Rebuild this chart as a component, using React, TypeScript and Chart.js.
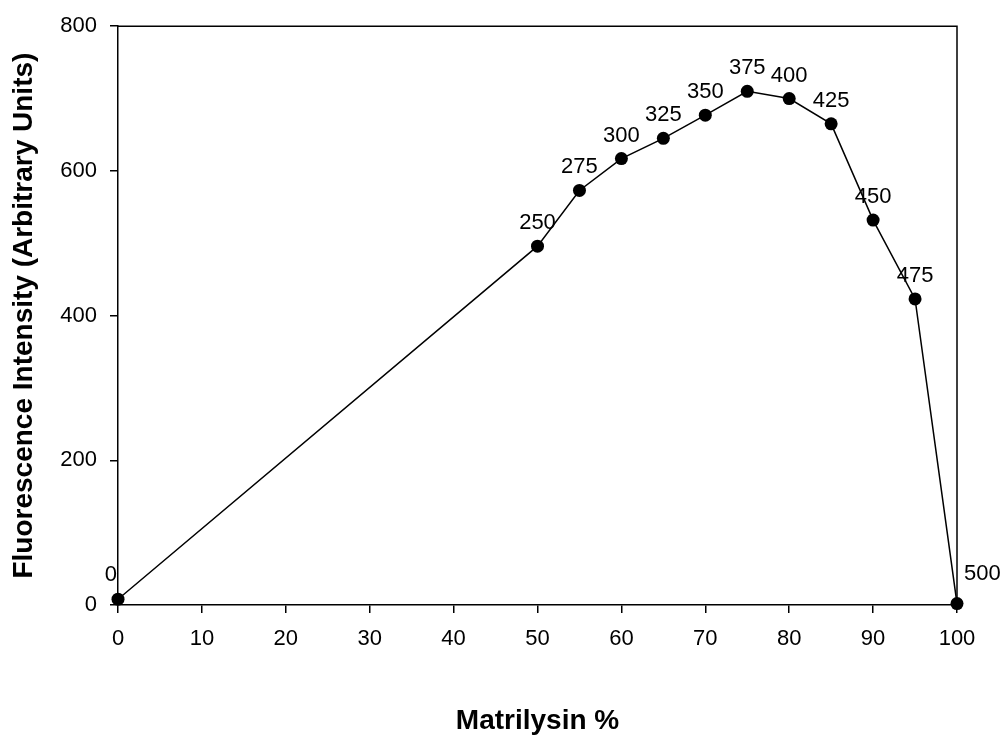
import React, { useEffect, useRef } from "react";
import { Chart, registerables } from "chart.js";

Chart.register(...registerables);

const matrilysinPct = [0, 50, 55, 60, 65, 70, 75, 80, 85, 90, 95, 100];
const intensity = [8, 496, 573, 617, 645, 677, 710, 700, 665, 532, 423, 2];
const pointLabels = ["0", "250", "275", "300", "325", "350", "375", "400", "425", "450", "475", "500"];
const xTicks = [0, 10, 20, 30, 40, 50, 60, 70, 80, 90, 100];
const yTicks = [0, 200, 400, 600, 800];

const FONT = "'Liberation Sans', Arial, Helvetica, sans-serif";

const frameAndLabels = {
  id: "frameAndLabels",
  beforeDatasetsDraw(chart: any) {
    const { ctx, chartArea } = chart;
    ctx.save();
    ctx.strokeStyle = "#000";
    ctx.lineWidth = 1.5;
    ctx.beginPath();
    ctx.moveTo(chartArea.left, chartArea.top);
    ctx.lineTo(chartArea.right, chartArea.top);
    ctx.lineTo(chartArea.right, chartArea.bottom);
    ctx.stroke();
    ctx.restore();
  },
  afterDatasetsDraw(chart: any) {
    const { ctx } = chart;
    const meta = chart.getDatasetMeta(0);
    const xScale = chart.scales.x;
    ctx.save();
    ctx.fillStyle = "#000";
    ctx.font = `22px ${FONT}`;
    ctx.textBaseline = "middle";
    meta.data.forEach((pt: any, i: number) => {
      const v = matrilysinPct[i];
      let x = pt.x;
      let y = pt.y - 23;
      ctx.textAlign = "center";
      if (v <= xScale.min) {
        ctx.textAlign = "right";
        x = pt.x - 1;
        y = pt.y - 24;
      } else if (v >= xScale.max) {
        ctx.textAlign = "left";
        x = pt.x + 7;
        y = pt.y - 30;
      }
      ctx.fillText(pointLabels[i], x, y);
    });
    ctx.restore();
  },
};

export default function App() {
  const ref = useRef<HTMLCanvasElement | null>(null);

  useEffect(() => {
    if (!ref.current) return;
    const chart = new Chart(ref.current, {
      type: "line",
      data: {
        datasets: [
          {
            data: matrilysinPct.map((x, i) => ({ x, y: intensity[i] })),
            borderColor: "#000",
            borderWidth: 1.5,
            backgroundColor: "#000",
            pointBackgroundColor: "#000",
            pointBorderColor: "#000",
            pointRadius: 6.5,
            pointBorderWidth: 0,
            tension: 0,
            clip: false as any,
          },
        ],
      },
      options: {
        animation: false,
        responsive: false,
        devicePixelRatio: 1,
        layout: { padding: { top: 19, right: 47, left: 0, bottom: 0 } },
        plugins: {
          legend: { display: false },
          tooltip: { enabled: false },
        },
        scales: {
          x: {
            type: "linear",
            min: 0,
            max: 100,
            afterBuildTicks: (scale: any) => {
              scale.ticks = xTicks.map((v) => ({ value: v }));
            },
            afterFit: (scale: any) => {
              scale.height = 133;
            },
            ticks: {
              color: "#000",
              font: { family: FONT, size: 22 },
              padding: 13,
              maxRotation: 0,
              autoSkip: false,
            },
            grid: {
              drawOnChartArea: false,
              drawTicks: true,
              tickLength: 8,
              color: "#000",
              lineWidth: 1.5,
            },
            border: { display: true, color: "#000", width: 1.5 },
            title: {
              display: true,
              text: "Matrilysin %",
              color: "#000",
              font: { family: FONT, size: 28, weight: "bold", lineHeight: 1.2 },
              padding: { top: 0, bottom: 0 },
            },
          },
          y: {
            type: "linear",
            min: 0,
            max: 800,
            afterBuildTicks: (scale: any) => {
              scale.ticks = yTicks.map((v) => ({ value: v }));
            },
            afterFit: (scale: any) => {
              scale.width = 118;
            },
            ticks: {
              color: "#000",
              font: { family: FONT, size: 22 },
              padding: 13,
              autoSkip: false,
            },
            grid: {
              drawOnChartArea: false,
              drawTicks: true,
              tickLength: 8,
              color: "#000",
              lineWidth: 1.5,
            },
            border: { display: true, color: "#000", width: 1.5 },
            title: {
              display: true,
              text: "Fluorescence Intensity (Arbitrary Units)",
              color: "#000",
              font: { family: FONT, size: 28, weight: "bold", lineHeight: 1.2 },
              padding: { top: 7, bottom: 0 },
            },
          },
        },
      },
      plugins: [frameAndLabels],
    });
    return () => chart.destroy();
  }, []);

  return (
    <div style={{ position: "fixed", left: 0, top: 0, width: 1004, height: 738, background: "#fff" }}>
      <canvas ref={ref} width={1004} height={738} style={{ width: 1004, height: 738, display: "block" }} />
    </div>
  );
}
